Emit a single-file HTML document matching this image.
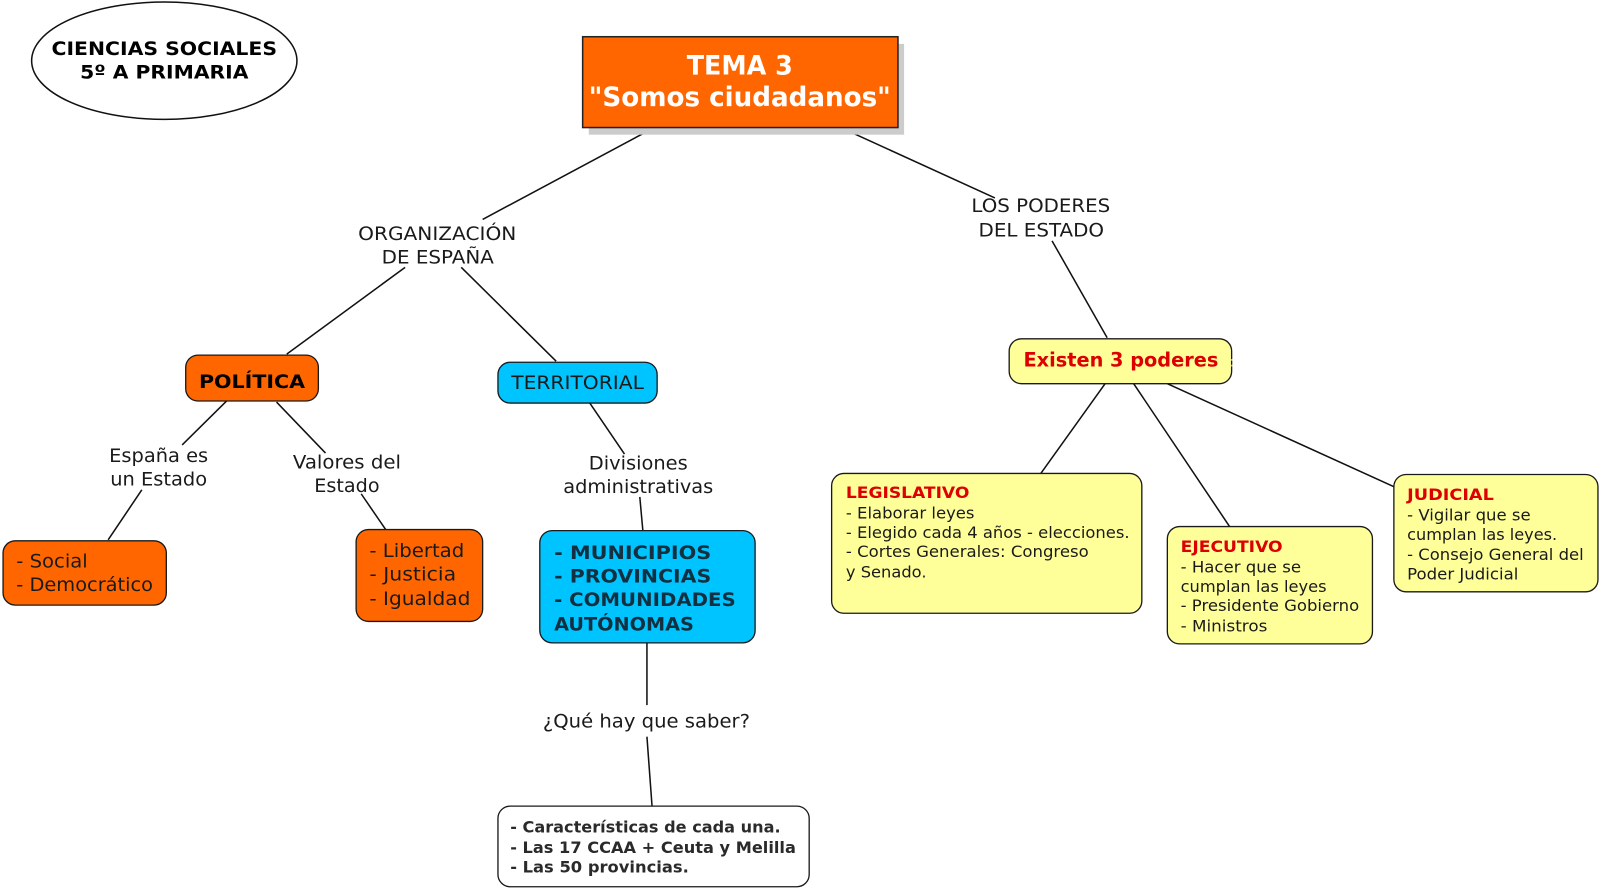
<!DOCTYPE html>
<html><head><meta charset="utf-8"><style>
html,body{margin:0;padding:0;background:#fff;width:1600px;height:891px;overflow:hidden}
svg{display:block}
text{font-family:"DejaVu Sans","Liberation Sans",sans-serif;fill:#1a1a1a;font-size:18px}
.c{text-anchor:middle}
.b{font-weight:bold}
.r{fill:#dd0000;font-weight:bold}
.s{font-size:16px}
</style></head><body>
<svg width="1600" height="891" viewBox="0 0 1568 873.18" xmlns="http://www.w3.org/2000/svg">
<rect width="1568" height="874" fill="#fff"/>
<g stroke="#111" stroke-width="1.5" fill="none">
<line x1="630" y1="131" x2="473" y2="215"/>
<line x1="397" y1="262" x2="281" y2="347"/>
<line x1="452" y1="262" x2="545" y2="354"/>
<line x1="837" y1="131" x2="975" y2="194"/>
<line x1="1031" y1="236" x2="1085" y2="331"/>
<line x1="222" y1="393" x2="178.500" y2="436"/>
<line x1="271" y1="394" x2="319" y2="444"/>
<line x1="139" y1="480" x2="106" y2="529"/>
<line x1="354" y1="484" x2="378" y2="519"/>
<line x1="578" y1="395" x2="612" y2="445"/>
<line x1="627" y1="487" x2="630" y2="520"/>
<line x1="634" y1="630" x2="634" y2="691"/>
<line x1="634" y1="722" x2="639" y2="790"/>
<line x1="1083" y1="376" x2="1020" y2="464"/>
<line x1="1111" y1="376" x2="1205" y2="516"/>
<line x1="1144" y1="376" x2="1366" y2="477"/>
</g>
<ellipse cx="161" cy="59.500" rx="130" ry="57.500" fill="#fff" stroke="#111" stroke-width="1.500"/>
<rect x="577" y="43" width="309" height="89" fill="#cccccc"/>
<rect x="571" y="36" width="309" height="89" fill="#ff6600" stroke="#222" stroke-width="1.500"/>
<g stroke="#1a1a1a" stroke-width="1.300">
<rect x="182" y="348" width="130" height="45" rx="12" fill="#ff6600"/>
<rect x="488" y="355" width="156" height="40" rx="12" fill="#00c4ff"/>
<rect x="989" y="332" width="218" height="44" rx="12" fill="#ffff99"/>
<rect x="3" y="530" width="160" height="63" rx="12" fill="#ff6600"/>
<rect x="349" y="519" width="124" height="90" rx="12" fill="#ff6600"/>
<rect x="529" y="520" width="211" height="110" rx="12" fill="#00c4ff"/>
<rect x="488" y="790" width="305" height="79" rx="12" fill="#fff"/>
<rect x="815" y="464" width="304" height="137" rx="12" fill="#ffff99"/>
<rect x="1144" y="516" width="201" height="115" rx="12" fill="#ffff99"/>
<rect x="1366" y="465" width="200" height="115" rx="12" fill="#ffff99"/>
</g>
<text class="c b" x="161" y="54" textLength="221" lengthAdjust="spacingAndGlyphs" style="fill:#000">CIENCIAS SOCIALES</text>
<text class="c b" x="161" y="77" textLength="165" lengthAdjust="spacingAndGlyphs" style="fill:#000">5º A PRIMARIA</text>
<text class="c b" x="725" y="73" textLength="104" lengthAdjust="spacingAndGlyphs" style="fill:#fff;font-size:26px">TEMA 3</text>
<text class="c b" x="725" y="104" textLength="296" lengthAdjust="spacingAndGlyphs" style="fill:#fff;font-size:26px">"Somos ciudadanos"</text>
<text class="c" x="428.500" y="235" textLength="155" lengthAdjust="spacingAndGlyphs">ORGANIZACIÓN</text>
<text class="c" x="429" y="258" textLength="110" lengthAdjust="spacingAndGlyphs">DE ESPAÑA</text>
<text class="c" x="1020" y="208" textLength="136" lengthAdjust="spacingAndGlyphs">LOS PODERES</text>
<text class="c" x="1020.500" y="232" textLength="123" lengthAdjust="spacingAndGlyphs">DEL ESTADO</text>
<text class="c b" x="247" y="380" textLength="104" lengthAdjust="spacingAndGlyphs" style="fill:#000">POLÍTICA</text>
<text class="c" x="566" y="381" textLength="130" lengthAdjust="spacingAndGlyphs">TERRITORIAL</text>
<text class="c r" x="1098.500" y="359" textLength="191" lengthAdjust="spacingAndGlyphs" style="font-size:19px">Existen 3 poderes</text>
<text x="1205" y="359" style="fill:#eeee99;font-size:14px">:</text>
<text class="c" x="155.500" y="453" textLength="97" lengthAdjust="spacingAndGlyphs">España es</text>
<text class="c" x="155.500" y="476" textLength="95" lengthAdjust="spacingAndGlyphs">un Estado</text>
<text class="c" x="340" y="459" textLength="106" lengthAdjust="spacingAndGlyphs">Valores del</text>
<text class="c" x="340" y="482" textLength="64" lengthAdjust="spacingAndGlyphs">Estado</text>
<text class="c" x="625.500" y="460" textLength="97" lengthAdjust="spacingAndGlyphs">Divisiones</text>
<text class="c" x="625.500" y="483" textLength="147" lengthAdjust="spacingAndGlyphs">administrativas</text>
<text x="16" y="556" textLength="70" lengthAdjust="spacingAndGlyphs">- Social</text>
<text x="16" y="579" textLength="134" lengthAdjust="spacingAndGlyphs">- Democrático</text>
<text x="362" y="546" textLength="93" lengthAdjust="spacingAndGlyphs">- Libertad</text>
<text x="362" y="569" textLength="85" lengthAdjust="spacingAndGlyphs">- Justicia</text>
<text x="362" y="593" textLength="99" lengthAdjust="spacingAndGlyphs">- Igualdad</text>
<g class="b" style="font-weight:bold">
<text x="543" y="548" textLength="154" lengthAdjust="spacingAndGlyphs" style="fill:#12303f">- MUNICIPIOS</text>
<text x="543" y="571" textLength="154" lengthAdjust="spacingAndGlyphs" style="fill:#12303f">- PROVINCIAS</text>
<text x="543" y="594" textLength="178" lengthAdjust="spacingAndGlyphs" style="fill:#12303f">- COMUNIDADES</text>
<text x="543" y="618" textLength="137" lengthAdjust="spacingAndGlyphs" style="fill:#12303f">AUTÓNOMAS</text>
</g>
<text class="c" x="633.500" y="713" textLength="203" lengthAdjust="spacingAndGlyphs">¿Qué hay que saber?</text>
<g style="font-weight:bold">
<text class="s" x="500" y="816" textLength="265" lengthAdjust="spacingAndGlyphs" style="fill:#2a2a2a">- Características de cada una.</text>
<text class="s" x="500" y="836" textLength="280" lengthAdjust="spacingAndGlyphs" style="fill:#2a2a2a">- Las 17 CCAA + Ceuta y Melilla</text>
<text class="s" x="500" y="855" textLength="175" lengthAdjust="spacingAndGlyphs" style="fill:#2a2a2a">- Las 50 provincias.</text>
</g>
<text class="s r" x="829" y="488" textLength="121" lengthAdjust="spacingAndGlyphs">LEGISLATIVO</text>
<text class="s" x="829" y="508" textLength="126" lengthAdjust="spacingAndGlyphs">- Elaborar leyes</text>
<text class="s" x="829" y="527" textLength="278" lengthAdjust="spacingAndGlyphs">- Elegido cada 4 años - elecciones.</text>
<text class="s" x="829" y="546" textLength="238" lengthAdjust="spacingAndGlyphs">- Cortes Generales: Congreso</text>
<text class="s" x="829" y="566" textLength="79" lengthAdjust="spacingAndGlyphs">y Senado.</text>
<text class="s r" x="1157" y="541" textLength="100" lengthAdjust="spacingAndGlyphs">EJECUTIVO</text>
<text class="s" x="1157" y="561" textLength="118" lengthAdjust="spacingAndGlyphs">- Hacer que se</text>
<text class="s" x="1157" y="580" textLength="143" lengthAdjust="spacingAndGlyphs">cumplan las leyes</text>
<text class="s" x="1157" y="599" textLength="175" lengthAdjust="spacingAndGlyphs">- Presidente Gobierno</text>
<text class="s" x="1157" y="619" textLength="85" lengthAdjust="spacingAndGlyphs">- Ministros</text>
<text class="s r" x="1379" y="490" textLength="85" lengthAdjust="spacingAndGlyphs">JUDICIAL</text>
<text class="s" x="1379" y="510" textLength="121" lengthAdjust="spacingAndGlyphs">- Vigilar que se</text>
<text class="s" x="1379" y="529" textLength="147" lengthAdjust="spacingAndGlyphs">cumplan las leyes.</text>
<text class="s" x="1379" y="549" textLength="173" lengthAdjust="spacingAndGlyphs">- Consejo General del</text>
<text class="s" x="1379" y="568" textLength="109" lengthAdjust="spacingAndGlyphs">Poder Judicial</text>
</svg>
</body></html>
